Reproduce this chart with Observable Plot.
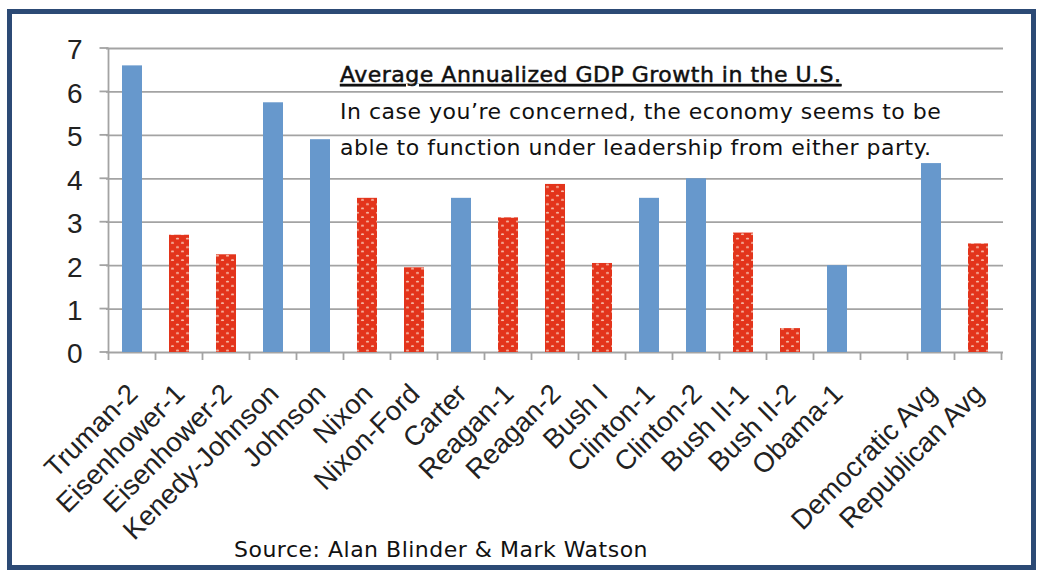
<!DOCTYPE html>
<html>
<head>
<meta charset="utf-8">
<script src="https://cdn.jsdelivr.net/npm/d3@7"></script>
<script src="https://cdn.jsdelivr.net/npm/@observablehq/plot@0.6"></script>
<style>
  html, body { margin: 0; padding: 0; background: #fff; }
  #wrap { position: relative; width: 1039px; height: 574px; overflow: hidden; background: #fff; }
  #chart { position: absolute; left: 0; top: 0; }
  #overlay { position: absolute; left: 0; top: 0; pointer-events: none; }
  .note { font-family: "DejaVu Sans", Verdana, sans-serif; font-size: 22px; letter-spacing: 0.5px; fill: #111; }
</style>
</head>
<body>
<div id="wrap">
  <div id="chart"></div>
  <svg id="overlay" width="1039" height="574">
    <rect x="9.5" y="11.5" width="1024" height="556" fill="none" stroke="#2c4a75" stroke-width="5"></rect>
    <text class="note" x="340" y="82" style="text-decoration: underline; stroke:#111; stroke-width:0.5px;">Average Annualized GDP Growth in the U.S.</text>
    <text class="note" x="340" y="119">In case you’re concerned, the economy seems to be</text>
    <text class="note" x="340" y="155">able to function under leadership from either party.</text>
    <text class="note" x="234" y="557">Source: Alan Blinder &amp; Mark Watson</text>
  </svg>
</div>
<script>
// ---- data ----
const categories = ["Truman-2", "Eisenhower-1", "Eisenhower-2", "Kenedy-Johnson", "Johnson", "Nixon", "Nixon-Ford", "Carter", "Reagan-1", "Reagan-2", "Bush I", "Clinton-1", "Clinton-2", "Bush II-1", "Bush II-2", "Obama-1", " ", "Democratic Avg", "Republican Avg"];
const growth = [6.6, 2.7, 2.25, 5.75, 4.9, 3.55, 1.95, 3.55, 3.1, 3.87, 2.05, 3.55, 4.0, 2.75, 0.55, 2.0, null, 4.35, 2.5];
const party = ["D", "R", "R", "D", "D", "R", "R", "D", "R", "R", "R", "D", "D", "R", "R", "D", "", "D", "R"];
const yTicks = [0, 1, 2, 3, 4, 5, 6, 7];

const partyFill = {D: "#6798cc", R: "url(#gopdots)"};

const rows = categories
  .map((name, i) => ({name, value: growth[i], party: party[i]}))
  .filter(d => d.value != null);

function patternDefs() {
  const defs = d3.create("svg:defs");
  const p = defs.append("pattern")
    .attr("id", "gopdots")
    .attr("patternUnits", "userSpaceOnUse")
    .attr("width", 10).attr("height", 8.6);
  p.append("rect").attr("width", 10).attr("height", 8.6).attr("fill", "#e3341b");
  p.append("ellipse").attr("cx", 2.5).attr("cy", 2.1).attr("rx", 1.6).attr("ry", 0.8).attr("fill", "#f6c2b0");
  p.append("ellipse").attr("cx", 7.5).attr("cy", 6.4).attr("rx", 1.6).attr("ry", 0.8).attr("fill", "#f6c2b0");
  return defs.node();
}

function axisLines(index, scales) {
  const x = scales.x, y = scales.y;
  const g = d3.create("svg:g").attr("stroke", "#a3a3a3").attr("stroke-width", 1.8).attr("fill", "none");
  const step = x(categories[1]) - x(categories[0]);
  const x0 = x(categories[0]);
  const bw = typeof x.bandwidth === "function" ? x.bandwidth() : x.bandwidth;
  const left = x0 + bw / 2 - step / 2;
  const y0 = y(0), yTop = y(7);
  // vertical axis line
  g.append("line").attr("x1", left).attr("x2", left).attr("y1", yTop).attr("y2", y0);
  // y ticks
  for (const t of yTicks) {
    g.append("line").attr("x1", left - 9).attr("x2", left).attr("y1", y(t)).attr("y2", y(t));
  }
  // x boundary ticks
  for (let i = 0; i <= categories.length; i++) {
    const bx = left + i * step;
    g.append("line").attr("x1", bx).attr("x2", bx).attr("y1", y0).attr("y2", y0 + 8);
  }
  return g.node();
}

const chart = Plot.plot({
  width: 1039,
  height: 574,
  marginLeft: 106,
  marginRight: 36,
  marginTop: 48,
  marginBottom: 222,
  style: {background: "transparent", fontFamily: "'Liberation Sans', Arial, sans-serif", color: "#222"},
  x: {domain: categories, paddingInner: 0.58, paddingOuter: 0.29, axis: null},
  y: {domain: [0, 7], axis: null},
  color: {type: "identity"},
  marks: [
    patternDefs,
    Plot.ruleY(yTicks, {y: d => d, stroke: "#a3a3a3", strokeWidth: 1.8}),
    axisLines,
    Plot.barY(rows, {x: "name", y: "value", fill: d => partyFill[d.party]}),
    Plot.text(yTicks, {y: d => d, text: d => String(d), frameAnchor: "left", textAnchor: "end", dx: -24, dy: 2, fontSize: 28, fill: "#222"}),
    Plot.text(categories, {x: d => d, y: () => 0, text: d => d, rotate: -45, textAnchor: "end", lineAnchor: "top", dx: -7, dy: 29, fontSize: 27.5, fill: "#222"})
  ]
});
document.getElementById("chart").appendChild(chart);
</script>
</body>
</html>
